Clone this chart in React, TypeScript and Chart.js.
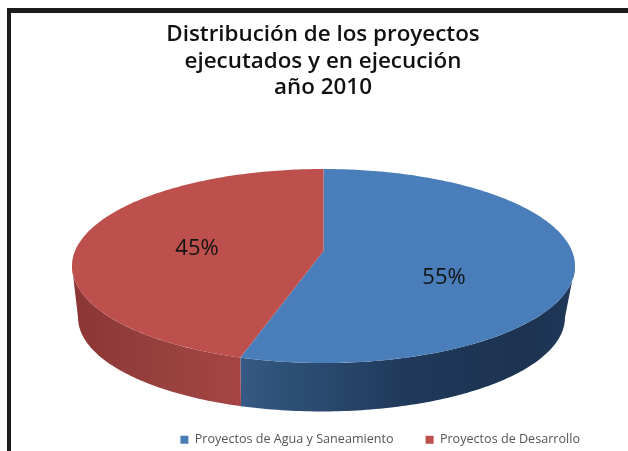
import React, { useEffect, useRef } from "react";
import { Chart, registerables } from "chart.js";

Chart.register(...registerables);

const categories = ["Proyectos de Agua y Saneamiento", "Proyectos de Desarrollo"];
const shares = [54.6, 45.4];
const topColors = ["#4a7ebb", "#bd4f4c"];
const titleLines = ["Distribución de los proyectos", "ejecutados y en ejecución", "año 2010"];

// Perspective view of the pie disc
const CX = 323.5, CX_BOT = 321.5, CY_TOP = 251, CY_BOT = 303, RX = 248.5, RY = 94.7, K = 0.1546, BOT_SCALE = 0.968;
const LABEL_POS = [[444, 278], [197, 249]];

function project(theta: number, bottom: boolean) {
  const u = Math.cos(theta), v = Math.sin(theta);
  const s = bottom ? BOT_SCALE : 1;
  const w = 1 - K * v;
  return { x: (bottom ? CX_BOT : CX) + (s * RX * u) / w, y: (bottom ? CY_BOT : CY_TOP) + (s * RY * v) / w };
}

function rim(ctx: CanvasRenderingContext2D, a: number, b: number, bottom: boolean, move: boolean) {
  const n = Math.max(2, Math.ceil(Math.abs(b - a) * 60));
  for (let i = 0; i <= n; i++) {
    const p = project(a + ((b - a) * i) / n, bottom);
    if (i === 0 && move) ctx.moveTo(p.x, p.y);
    else ctx.lineTo(p.x, p.y);
  }
}

const pie3d = {
  id: "pie3d",
  beforeDraw(chart: any) {
    const { ctx, width, height } = chart;
    ctx.save();
    ctx.fillStyle = "#ffffff";
    ctx.fillRect(0, 0, width, height);
    ctx.fillStyle = "#1c1c1c";
    ctx.fillRect(7, 8, width - 7, 5);
    ctx.fillRect(7, 8, 4, height - 8);
    ctx.restore();
  },
  beforeDatasetDraw() {
    return false;
  },
  afterDatasetsDraw(chart: any) {
    const { ctx } = chart;
    const arcs = chart.getDatasetMeta(0).data;
    const front0 = Math.asin(K), front1 = Math.PI - Math.asin(K);
    ctx.save();
    // side wall
    arcs.forEach((arc: any, i: number) => {
      const props = arc.getProps(["startAngle", "endAngle"], true);
      const a = Math.max(props.startAngle, front0);
      const b = Math.min(props.endAngle, front1);
      if (b <= a) return;
      const p0 = project(a, false), p1 = project(b, false);
      const g = ctx.createLinearGradient(Math.min(p0.x, p1.x), 0, Math.max(p0.x, p1.x), 0);
      if (i === 0) {
        g.addColorStop(0, "#365a85");
        g.addColorStop(0.15, "#2d4f75");
        g.addColorStop(0.5, "#20395a");
        g.addColorStop(0.85, "#1c3350");
        g.addColorStop(1, "#20395a");
      } else {
        g.addColorStop(0, "#8b3635");
        g.addColorStop(0.5, "#96403e");
        g.addColorStop(1, "#a54543");
      }
      ctx.fillStyle = g;
      ctx.beginPath();
      rim(ctx, a, b, false, true);
      rim(ctx, b, a, true, false);
      ctx.closePath();
      ctx.fill();
    });
    // top face
    arcs.forEach((arc: any, i: number) => {
      const props = arc.getProps(["startAngle", "endAngle"], true);
      ctx.fillStyle = topColors[i];
      ctx.beginPath();
      ctx.moveTo(CX, CY_TOP);
      rim(ctx, props.startAngle, props.endAngle, false, false);
      ctx.closePath();
      ctx.fill();
    });
    // value labels
    ctx.fillStyle = "#141414";
    ctx.font = '22px "Open Sans"';
    ctx.textAlign = "center";
    ctx.textBaseline = "middle";
    const total = shares.reduce((s, v) => s + v, 0);
    shares.forEach((v, i) => {
      ctx.fillText(`${Math.round((v / total) * 100)}%`, LABEL_POS[i][0], LABEL_POS[i][1]);
    });
    ctx.restore();
  },
};

export default function App() {
  const ref = useRef<HTMLCanvasElement>(null);
  useEffect(() => {
    const chart = new Chart(ref.current!, {
      type: "pie",
      data: {
        labels: categories,
        datasets: [{ data: shares, backgroundColor: topColors, borderWidth: 0 }],
      },
      options: {
        animation: false,
        responsive: false,
        layout: { padding: { left: 34, right: 16, top: 22, bottom: -5 } },
        plugins: {
          tooltip: { enabled: false },
          title: {
            display: true,
            text: titleLines,
            color: "#111111",
            font: { family: "Open Sans", size: 22.4, weight: "600", lineHeight: 1.17 },
            padding: { top: 0, bottom: 10 },
          },
          legend: {
            position: "bottom",
            align: "end",
            labels: {
              color: "#555555",
              font: { family: "Open Sans", size: 12.6 },
              boxWidth: 8,
              boxHeight: 8,
              padding: 32,
            },
          },
        },
      },
      plugins: [pie3d],
    } as any);
    return () => chart.destroy();
  }, []);
  return (
    <canvas
      ref={ref}
      width={628}
      height={451}
      style={{ position: "fixed", left: 0, top: 0, width: 628, height: 451, display: "block" }}
    />
  );
}
